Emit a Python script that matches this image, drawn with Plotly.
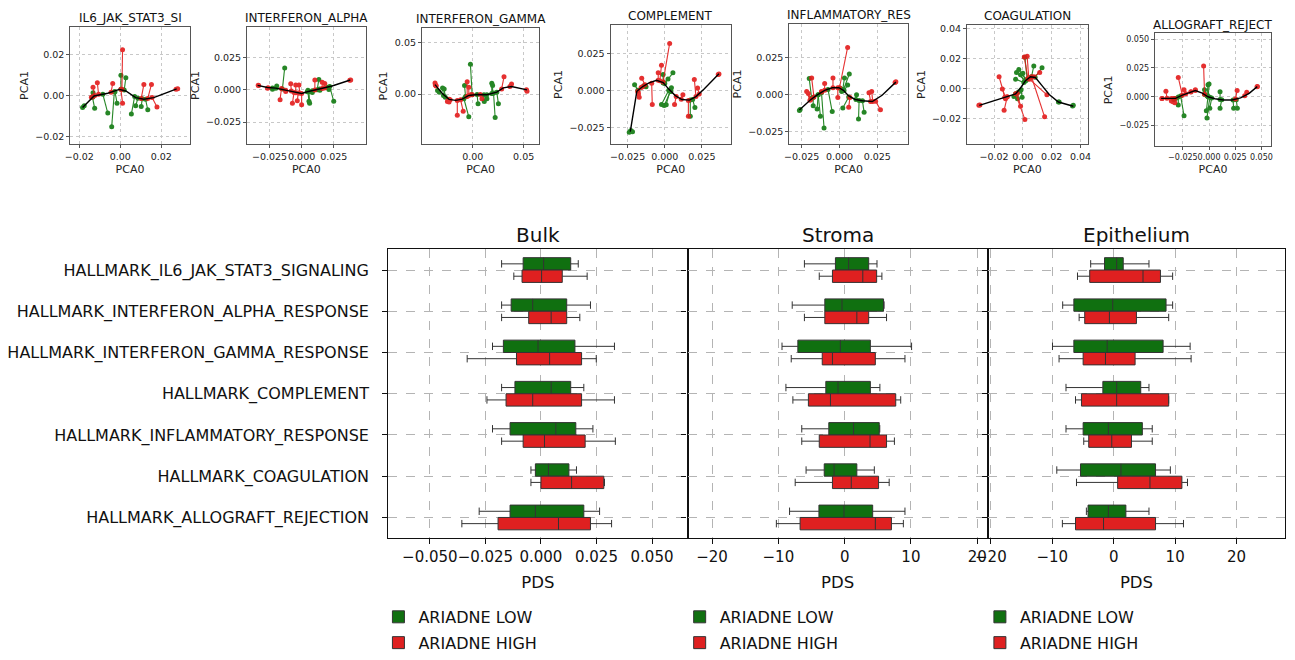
import plotly.graph_objects as go

W, H = 1295, 660
FONT = "DejaVu Sans"
RED = "#e31a1a"
GREEN = "#0f7a0f"
BOX_GREEN = "#107010"
BOX_RED = "#df2020"
EDGE = "#333333"

# ---------------- top panels: principal curves with projected samples ----------------
TOP_TITLES = ["IL6_JAK_STAT3_SI", "INTERFERON_ALPHA", "INTERFERON_GAMMA", "COMPLEMENT",
              "INFLAMMATORY_RES", "COAGULATION", "ALLOGRAFT_REJECT"]

# samples are (x, y, projected_x, projected_y)
P1_CURVE_X = [-0.0184, -0.0128, -0.0061, -0.0005, 0.0027, 0.0075, 0.0115, 0.0163, 0.0227, 0.0275]
P1_CURVE_Y = [-0.0058, -0.0002, 0.0011, 0.0030, 0.0022, -0.0010, -0.0018, -0.0010, 0.0014, 0.0032]
P1_HIGH = [(0.0011, 0.0222, 0.0008, 0.0030), (-0.0112, 0.0062, -0.0106, 0.0006),
           (-0.0133, 0.0040, -0.0125, 0.0000), (-0.0037, 0.0059, -0.0045, 0.0016),
           (0.0011, -0.0037, 0.0003, 0.0030), (0.0115, 0.0054, 0.0102, -0.0014),
           (0.0152, 0.0054, 0.0134, -0.0014), (0.0179, -0.0056, 0.0155, -0.0010),
           (0.0280, 0.0033, 0.0272, 0.0031), (-0.0141, -0.0008, -0.0133, -0.0005)]
P1_LOW = [(-0.0184, -0.0058, -0.0176, -0.0050), (-0.0125, -0.0062, -0.0136, -0.0008),
          (-0.0061, -0.0085, -0.0085, 0.0006), (-0.0042, -0.0152, -0.0029, 0.0018),
          (-0.0016, -0.0037, -0.0026, 0.0019), (0.0003, 0.0099, 0.0003, 0.0030),
          (0.0027, 0.0086, 0.0019, 0.0027), (0.0054, -0.0090, 0.0070, -0.0005),
          (0.0075, -0.0050, 0.0086, -0.0013), (0.0102, -0.0053, 0.0107, -0.0016),
          (0.0134, -0.0069, 0.0123, -0.0018), (-0.0133, 0.0014, -0.0133, -0.0005)]

P2_CURVE_X = [-0.0343, -0.0266, -0.0201, -0.0124, -0.0059, 0.0000, 0.0044, 0.0095, 0.0173, 0.0237, 0.0379]
P2_CURVE_Y = [0.0035, 0.0018, 0.0013, -0.0003, -0.0020, -0.0028, -0.0015, -0.0003, 0.0013, 0.0030, 0.0076]
P2_HIGH = [(-0.0338, 0.0035, -0.0335, 0.0034), (-0.0266, 0.0013, -0.0261, 0.0017),
           (-0.0168, -0.0076, -0.0157, 0.0010), (-0.0124, -0.0013, -0.0124, -0.0003),
           (-0.0085, 0.0048, -0.0080, -0.0008), (-0.0072, -0.0104, -0.0059, -0.0020),
           (-0.0046, 0.0038, -0.0046, -0.0023), (-0.0034, -0.0084, -0.0026, -0.0025),
           (-0.0021, 0.0038, -0.0015, -0.0025), (0.0000, -0.0116, 0.0000, -0.0028),
           (0.0103, 0.0076, 0.0103, -0.0001), (0.0160, 0.0058, 0.0160, 0.0010),
           (0.0180, 0.0050, 0.0178, 0.0014), (0.0382, 0.0077, 0.0375, 0.0075)]
P2_LOW = [(-0.0227, 0.0005, -0.0227, 0.0015), (-0.0194, 0.0030, -0.0201, 0.0013),
          (-0.0132, 0.0170, -0.0150, 0.0006), (0.0049, -0.0003, 0.0044, -0.0015),
          (0.0057, -0.0089, 0.0049, -0.0014), (0.0062, -0.0104, 0.0057, -0.0013),
          (0.0083, -0.0020, 0.0083, -0.0006), (0.0134, 0.0081, 0.0121, 0.0001),
          (0.0142, -0.0003, 0.0140, 0.0006), (0.0212, 0.0003, 0.0205, 0.0020),
          (0.0250, -0.0089, 0.0219, 0.0025)]

P3_CURVE_X = [-0.0371, -0.0297, -0.0233, -0.0168, -0.0103, -0.0039, 0.0042, 0.0139, 0.0236, 0.0300, 0.0381, 0.0533]
P3_CURVE_Y = [0.0093, 0.0003, -0.0051, -0.0061, -0.0048, -0.0013, -0.0003, -0.0006, 0.0019, 0.0061, 0.0074, 0.0042]
P3_HIGH = [(-0.0371, 0.0109, -0.0368, 0.0090), (-0.0362, 0.0085, -0.0360, 0.0080),
           (-0.0249, -0.0071, -0.0233, -0.0051), (-0.0233, -0.0077, -0.0222, -0.0055),
           (-0.0152, -0.0205, -0.0152, -0.0061), (-0.0094, -0.0167, -0.0119, -0.0055),
           (-0.0055, 0.0122, -0.0055, -0.0022), (-0.0039, 0.0068, -0.0039, -0.0013),
           (-0.0016, -0.0004, -0.0006, -0.0005), (0.0090, -0.0045, 0.0074, -0.0004),
           (0.0307, 0.0170, 0.0284, 0.0051), (0.0381, 0.0100, 0.0365, 0.0074),
           (0.0533, 0.0029, 0.0528, 0.0043)]
P3_LOW = [(-0.0346, 0.0035, -0.0329, 0.0019), (-0.0297, 0.0061, -0.0288, -0.0013),
          (-0.0281, 0.0051, -0.0270, -0.0030), (-0.0081, 0.0084, -0.0071, -0.0023),
          (-0.0039, -0.0221, -0.0087, -0.0045), (-0.0023, 0.0292, -0.0006, -0.0005),
          (0.0052, -0.0093, 0.0042, -0.0003), (0.0113, -0.0071, 0.0110, -0.0005),
          (0.0139, -0.0045, 0.0139, -0.0006), (0.0187, 0.0106, 0.0187, 0.0006),
          (0.0220, -0.0228, 0.0204, 0.0010), (0.0252, -0.0093, 0.0236, 0.0019),
          (0.0195, 0.0085, 0.0195, 0.0007)]

P4_CURVE_X = [-0.0232, -0.0188, -0.0150, -0.0106, -0.0055, -0.0011, 0.0027, 0.0071, 0.0115, 0.0166, 0.0210, 0.0265, 0.0365]
P4_CURVE_Y = [-0.0278, -0.0004, 0.0027, 0.0053, 0.0071, 0.0055, 0.0011, -0.0033, -0.0060, -0.0064, -0.0040, 0.0011, 0.0115]
P4_HIGH = [(-0.0177, -0.0022, -0.0181, -0.0004), (-0.0172, -0.0044, -0.0180, -0.0010),
           (-0.0159, 0.0022, -0.0150, 0.0027), (-0.0084, -0.0093, -0.0088, 0.0051),
           (-0.0155, 0.0084, -0.0133, 0.0040), (-0.0022, 0.0173, -0.0033, 0.0068),
           (0.0033, 0.0322, -0.0011, 0.0060), (-0.0044, 0.0122, -0.0044, 0.0071),
           (0.0066, -0.0093, 0.0077, -0.0040), (0.0122, -0.0027, 0.0111, -0.0058),
           (0.0159, -0.0173, 0.0159, -0.0066), (0.0199, 0.0077, 0.0210, -0.0040),
           (0.0221, 0.0018, 0.0232, -0.0022), (0.0365, 0.0113, 0.0360, 0.0110)]
P4_LOW = [(-0.0239, -0.0282, -0.0232, -0.0278), (-0.0217, -0.0280, -0.0228, -0.0270),
          (-0.0203, 0.0040, -0.0181, 0.0004), (-0.0126, 0.0027, -0.0140, 0.0033),
          (-0.0011, 0.0111, -0.0011, 0.0055), (0.0055, 0.0122, 0.0000, 0.0049),
          (0.0022, 0.0080, -0.0008, 0.0052), (-0.0022, -0.0093, 0.0027, 0.0004),
          (-0.0004, -0.0100, 0.0040, -0.0004), (0.0010, -0.0095, 0.0035, 0.0000),
          (0.0172, -0.0173, 0.0172, -0.0064), (0.0203, -0.0115, 0.0188, -0.0060),
          (0.0045, 0.0020, 0.0040, -0.0005)]

P5_CURVE_X = [-0.0265, -0.0228, -0.0195, -0.0152, -0.0098, -0.0048, -0.0004, 0.0026, 0.0061, 0.0104, 0.0152, 0.0217, 0.0282, 0.0373]
P5_CURVE_Y = [-0.0106, -0.0071, -0.0040, -0.0007, 0.0027, 0.0044, 0.0044, 0.0027, -0.0011, -0.0035, -0.0044, -0.0049, -0.0007, 0.0082]
P5_HIGH = [(-0.0184, 0.0110, -0.0169, -0.0018), (-0.0217, 0.0018, -0.0195, -0.0040),
           (-0.0206, 0.0005, -0.0190, -0.0035), (-0.0098, 0.0073, -0.0098, 0.0027),
           (-0.0119, 0.0018, -0.0119, 0.0015), (-0.0043, 0.0110, -0.0043, 0.0044),
           (-0.0011, -0.0022, -0.0011, 0.0044), (0.0054, 0.0316, 0.0000, 0.0044),
           (0.0061, -0.0088, 0.0069, -0.0022), (0.0195, 0.0011, 0.0206, -0.0048),
           (0.0213, 0.0018, 0.0220, -0.0049), (0.0271, -0.0104, 0.0239, -0.0047),
           (0.0373, 0.0084, 0.0368, 0.0080)]
P5_LOW = [(-0.0265, -0.0110, -0.0260, -0.0102), (-0.0200, 0.0106, -0.0184, -0.0027),
          (-0.0174, -0.0077, -0.0174, -0.0022), (-0.0148, -0.0099, -0.0141, -0.0004),
          (-0.0126, -0.0148, -0.0141, -0.0004), (-0.0102, -0.0228, -0.0119, 0.0011),
          (-0.0048, -0.0117, -0.0076, 0.0033), (0.0015, 0.0018, 0.0004, 0.0040),
          (0.0033, 0.0110, 0.0022, 0.0033), (0.0065, 0.0137, 0.0026, 0.0029),
          (0.0054, 0.0062, 0.0030, 0.0025), (0.0022, -0.0093, 0.0061, -0.0018),
          (0.0113, -0.0004, 0.0109, -0.0035), (0.0126, -0.0166, 0.0130, -0.0042),
          (0.0163, -0.0122, 0.0152, -0.0044)]

P6_CURVE_X = [-0.0302, -0.0211, -0.0119, -0.0050, -0.0016, 0.0018, 0.0053, 0.0087, 0.0133, 0.0183, 0.0247, 0.0350]
P6_CURVE_Y = [-0.0114, -0.0085, -0.0059, -0.0037, 0.0002, 0.0050, 0.0077, 0.0072, 0.0018, -0.0042, -0.0092, -0.0120]
P6_HIGH = [(-0.0305, -0.0114, -0.0298, -0.0112), (-0.0165, 0.0077, -0.0124, -0.0060),
           (-0.0142, -0.0004, -0.0124, -0.0060), (-0.0130, -0.0147, -0.0108, -0.0056),
           (-0.0016, -0.0120, -0.0039, -0.0034), (0.0014, -0.0208, -0.0050, -0.0037),
           (0.0030, 0.0215, 0.0041, 0.0068), (0.0117, 0.0105, 0.0076, 0.0077),
           (0.0167, -0.0044, 0.0046, 0.0061), (0.0151, -0.0191, 0.0060, 0.0077),
           (0.0010, 0.0210, 0.0035, 0.0065), (-0.0120, -0.0070, -0.0110, -0.0058)]
P6_LOW = [(0.0014, 0.0208, 0.0030, 0.0061), (0.0076, 0.0149, 0.0060, 0.0077),
          (0.0133, 0.0138, 0.0085, 0.0074), (-0.0044, 0.0105, 0.0018, 0.0050),
          (-0.0028, 0.0125, 0.0022, 0.0055), (-0.0016, 0.0090, 0.0012, 0.0045),
          (-0.0050, 0.0061, 0.0007, 0.0039), (-0.0062, -0.0055, -0.0050, -0.0037),
          (-0.0037, -0.0070, -0.0030, -0.0025), (-0.0005, -0.0060, -0.0012, -0.0010),
          (0.0252, -0.0092, 0.0247, -0.0092), (0.0350, -0.0114, 0.0345, -0.0118),
          (0.0000, 0.0100, 0.0020, 0.0052)]

P7_CURVE_X = [-0.0458, -0.0386, -0.0320, -0.0255, -0.0190, -0.0131, -0.0065, -0.0010, 0.0056, 0.0137, 0.0219, 0.0301, 0.0383, 0.0460]
P7_CURVE_Y = [-0.0014, -0.0014, -0.0014, 0.0014, 0.0037, 0.0054, 0.0031, 0.0000, -0.0017, -0.0028, -0.0028, -0.0009, 0.0030, 0.0088]
P7_HIGH = [(-0.0451, -0.0014, -0.0448, -0.0014), (-0.0412, 0.0048, -0.0402, -0.0012),
           (-0.0360, -0.0037, -0.0360, -0.0014), (-0.0343, -0.0043, -0.0343, -0.0014),
           (-0.0327, -0.0051, -0.0327, -0.0014), (-0.0294, 0.0168, -0.0255, 0.0014),
           (-0.0239, 0.0062, -0.0222, 0.0026), (-0.0173, 0.0043, -0.0173, 0.0041),
           (-0.0131, 0.0062, -0.0131, 0.0054), (-0.0052, 0.0267, -0.0043, 0.0022),
           (0.0268, 0.0054, 0.0252, -0.0020), (0.0360, 0.0040, 0.0340, 0.0008),
           (0.0462, 0.0090, 0.0458, 0.0087)]
P7_LOW = [(-0.0337, -0.0023, -0.0320, -0.0014), (-0.0294, -0.0071, -0.0294, -0.0002),
          (-0.0239, -0.0165, -0.0271, 0.0006), (-0.0043, 0.0062, -0.0043, 0.0022),
          (-0.0010, 0.0105, -0.0020, 0.0010), (0.0000, 0.0111, -0.0008, 0.0003),
          (-0.0026, -0.0122, -0.0010, 0.0000), (-0.0020, -0.0185, 0.0007, -0.0005),
          (0.0007, -0.0099, 0.0025, -0.0010), (0.0105, 0.0043, 0.0105, -0.0024),
          (0.0105, -0.0099, 0.0121, -0.0025), (0.0235, -0.0099, 0.0229, -0.0028),
          (0.0270, -0.0099, 0.0260, -0.0025)]

TOP_X_RANGES = [[-0.0244, 0.0339], [-0.0425, 0.0498], [-0.050, 0.0655], [-0.0365, 0.0446],
                [-0.0332, 0.0452], [-0.0387, 0.0449], [-0.0519, 0.0594]]
TOP_Y_RANGES = [[-0.0237, 0.0335], [-0.0422, 0.049], [-0.049, 0.065], [-0.0365, 0.045],
                [-0.0338, 0.0477], [-0.0375, 0.0426], [-0.043, 0.055]]
TOP_X_TICKS = [[-0.02, 0, 0.02], [-0.025, 0, 0.025], [0, 0.05], [-0.025, 0, 0.025],
               [-0.025, 0, 0.025], [-0.02, 0, 0.02, 0.04], [-0.025, 0, 0.025, 0.05]]
TOP_X_TEXT = [["\u22120.02", "0.00", "0.02"], ["\u22120.025", "0.000", "0.025"], ["0.00", "0.05"],
              ["\u22120.025", "0.000", "0.025"], ["\u22120.025", "0.000", "0.025"],
              ["\u22120.02", "0.00", "0.02", "0.04"], ["\u22120.025", "0.000", "0.025", "0.050"]]
TOP_Y_TICKS = [[-0.02, 0, 0.02], [-0.025, 0, 0.025], [0, 0.05], [-0.025, 0, 0.025],
               [-0.025, 0, 0.025], [-0.02, 0, 0.02, 0.04], [-0.025, 0, 0.025, 0.05]]
TOP_Y_TEXT = TOP_X_TEXT

# ---------------- bottom panels: PDS box plots ----------------
PATHWAYS = ["HALLMARK_IL6_JAK_STAT3_SIGNALING", "HALLMARK_INTERFERON_ALPHA_RESPONSE",
            "HALLMARK_INTERFERON_GAMMA_RESPONSE", "HALLMARK_COMPLEMENT",
            "HALLMARK_INFLAMMATORY_RESPONSE", "HALLMARK_COAGULATION",
            "HALLMARK_ALLOGRAFT_REJECTION"]
PANELS = ["Bulk", "Stroma", "Epithelium"]
GROUPS = ["ARIADNE LOW", "ARIADNE HIGH"]

BULK_LOW_WLO = [-0.0177, -0.0177, -0.0218, -0.0177, -0.0218, -0.0045, -0.0278]
BULK_LOW_Q1 = [-0.0080, -0.0134, -0.0169, -0.0117, -0.0139, -0.0025, -0.0139]
BULK_LOW_MED = [0.0012, -0.0037, -0.0013, 0.0046, 0.0067, 0.0034, -0.0025]
BULK_LOW_Q3 = [0.0134, 0.0116, 0.0153, 0.0134, 0.0157, 0.0126, 0.0193]
BULK_LOW_WHI = [0.0168, 0.0223, 0.0331, 0.0193, 0.0234, 0.0160, 0.0264]
BULK_HIGH_WLO = [-0.0122, -0.0177, -0.0332, -0.0243, -0.0177, -0.0045, -0.0356]
BULK_HIGH_Q1 = [-0.0085, -0.0055, -0.0110, -0.0157, -0.0080, 0.0000, -0.0193]
BULK_HIGH_MED = [0.0003, 0.0046, 0.0039, -0.0037, 0.0016, 0.0138, 0.0079]
BULK_HIGH_Q3 = [0.0096, 0.0116, 0.0183, 0.0183, 0.0199, 0.0283, 0.0223]
BULK_HIGH_WHI = [0.0208, 0.0175, 0.0249, 0.0331, 0.0335, 0.0286, 0.0318]

STROMA_LOW_WLO = [-6.07, -7.91, -9.45, -8.86, -6.47, -5.82, -8.31]
STROMA_LOW_Q1 = [-1.39, -2.99, -7.06, -2.84, -2.39, -3.08, -3.88]
STROMA_LOW_MED = [0.60, -0.40, -0.65, -1.00, 1.34, -1.59, -0.10]
STROMA_LOW_Q3 = [3.63, 5.87, 3.88, 3.88, 5.22, 1.84, 4.23]
STROMA_LOW_WHI = [4.88, 5.95, 10.10, 5.32, 5.30, 4.48, 9.10]
STROMA_HIGH_WLO = [-3.83, -6.07, -8.06, -7.81, -6.47, -7.46, -10.30]
STROMA_HIGH_Q1 = [-1.84, -2.99, -3.38, -5.47, -3.83, -1.84, -6.72]
STROMA_HIGH_MED = [2.74, 1.84, -1.84, -2.14, 3.83, 1.00, 4.63]
STROMA_HIGH_Q3 = [4.83, 3.63, 4.63, 7.71, 6.32, 5.12, 7.06]
STROMA_HIGH_WHI = [5.62, 6.32, 9.10, 8.46, 7.51, 6.72, 8.86]

EPI_LOW_WLO = [-3.75, -8.31, -9.97, -7.77, -7.77, -9.27, -4.45]
EPI_LOW_Q1 = [-1.50, -6.49, -6.49, -1.77, -4.98, -5.41, -4.18]
EPI_LOW_MED = [0.48, -0.16, -1.07, 0.48, -0.86, 1.18, -0.86]
EPI_LOW_Q3 = [1.55, 8.52, 8.04, 4.40, 4.66, 6.81, 1.98]
EPI_LOW_WHI = [5.74, 9.59, 12.44, 5.74, 6.27, 9.22, 5.74]
EPI_HIGH_WLO = [-5.90, -5.63, -8.90, -6.22, -4.88, -6.06, -8.36]
EPI_HIGH_Q1 = [-3.91, -4.72, -4.98, -5.25, -4.07, 0.64, -6.22]
EPI_HIGH_MED = [4.77, -0.70, -1.34, 0.48, -0.32, 5.90, -1.66]
EPI_HIGH_Q3 = [7.61, 3.70, 3.48, 8.95, 2.89, 11.10, 6.81]
EPI_HIGH_WHI = [9.59, 8.95, 12.60, 8.95, 6.27, 12.01, 11.36]

BOTTOM_X_RANGES = [[-0.0687, 0.066], [-23.7, 21.6], [-20.5, 27.9]]
BOTTOM_TICKS = [[-0.05, -0.025, 0, 0.025, 0.05], [-20, -10, 0, 10, 20], [-20, -10, 0, 10, 20]]
BOTTOM_TICK_TEXT = [["\u22120.050", "\u22120.025", "0.000", "0.025", "0.050"],
                    ["\u221220", "\u221210", "0", "10", "20"],
                    ["\u221220", "\u221210", "0", "10", "20"]]

# ---------------- layout geometry (pixels) ----------------
TOP_PX = [(58, 179, 25, 145), (237, 357, 25, 145), (414, 533, 26, 145), (605, 727, 23, 145),
          (786, 906, 22, 145), (966, 1088, 23, 145), (1156, 1274, 32, 147)]
TOP_TICK_SIZE = [9.5, 9.5, 9.5, 9.5, 9.5, 9.5, 8]
BOT_PX = [(380, 683), (683, 987), (987, 1288)]
BOT_TOP, BOT_BOTTOM = 252, 546


def dx(a, b):
    return [a / W, b / W]


def dy(top, bottom):
    return [1 - bottom / H, 1 - top / H]


fig = go.Figure()
layout = dict(width=W, height=H, margin=dict(l=0, r=0, t=0, b=0),
              paper_bgcolor="white", plot_bgcolor="white",
              font=dict(family=FONT, color="#1a1a1a"),
              showlegend=True, boxmode="group", boxgap=0.4, boxgroupgap=0.0)
annotations = []

top_data = [(P1_CURVE_X, P1_CURVE_Y, P1_HIGH, P1_LOW), (P2_CURVE_X, P2_CURVE_Y, P2_HIGH, P2_LOW),
            (P3_CURVE_X, P3_CURVE_Y, P3_HIGH, P3_LOW), (P4_CURVE_X, P4_CURVE_Y, P4_HIGH, P4_LOW),
            (P5_CURVE_X, P5_CURVE_Y, P5_HIGH, P5_LOW), (P6_CURVE_X, P6_CURVE_Y, P6_HIGH, P6_LOW),
            (P7_CURVE_X, P7_CURVE_Y, P7_HIGH, P7_LOW)]


def segs(samples):
    xs, ys = [], []
    for (x, y, px, py) in samples:
        xs += [x, px, None]
        ys += [y, py, None]
    return xs, ys


for i, (cx, cy, high, low) in enumerate(top_data):
    n = i + 1
    xa, ya = ("x" if n == 1 else f"x{n}"), ("y" if n == 1 else f"y{n}")
    for samples, col in ((low, GREEN), (high, RED)):
        sx, sy = segs(samples)
        fig.add_trace(go.Scatter(x=sx, y=sy, mode="lines+markers", xaxis=xa, yaxis=ya,
                                 line=dict(color=col, width=1.1), opacity=0.9,
                                 marker=dict(color=col, size=5), showlegend=False,
                                 hoverinfo="skip"))
    fig.add_trace(go.Scatter(x=cx, y=cy, mode="lines", xaxis=xa, yaxis=ya,
                             line=dict(color="black", width=1.4), showlegend=False,
                             hoverinfo="skip"))
    l, r, t, b = TOP_PX[i]
    common = dict(showline=True, linecolor="#555555", linewidth=1, mirror=True,
                  ticks="outside", ticklen=3, tickcolor="#555555", showgrid=True,
                  gridcolor="#c8c8c8", griddash="dot", gridwidth=1, zeroline=False,
                  tickangle=0, tickfont=dict(size=TOP_TICK_SIZE[i], family=FONT, color="#222"))
    layout["xaxis" if n == 1 else f"xaxis{n}"] = dict(
        domain=dx(l, r), range=TOP_X_RANGES[i], anchor=ya,
        tickvals=TOP_X_TICKS[i], ticktext=TOP_X_TEXT[i],
        title=dict(text="PCA0", font=dict(size=11, family=FONT, color="#222"), standoff=4), **common)
    layout["yaxis" if n == 1 else f"yaxis{n}"] = dict(
        domain=dy(t, b), range=TOP_Y_RANGES[i], anchor=xa,
        tickvals=TOP_Y_TICKS[i], ticktext=TOP_Y_TEXT[i],
        title=dict(text="PCA1", font=dict(size=11, family=FONT, color="#222"), standoff=4), **common)
    annotations.append(dict(text=TOP_TITLES[i], x=(l + r) / 2 / W, y=1 - (t - 9) / H,
                            xref="paper", yref="paper", showarrow=False,
                            font=dict(size=12, family=FONT, color="#111"),
                            xanchor="center", yanchor="middle"))

bottom_stats = [
    ((BULK_LOW_WLO, BULK_LOW_Q1, BULK_LOW_MED, BULK_LOW_Q3, BULK_LOW_WHI),
     (BULK_HIGH_WLO, BULK_HIGH_Q1, BULK_HIGH_MED, BULK_HIGH_Q3, BULK_HIGH_WHI)),
    ((STROMA_LOW_WLO, STROMA_LOW_Q1, STROMA_LOW_MED, STROMA_LOW_Q3, STROMA_LOW_WHI),
     (STROMA_HIGH_WLO, STROMA_HIGH_Q1, STROMA_HIGH_MED, STROMA_HIGH_Q3, STROMA_HIGH_WHI)),
    ((EPI_LOW_WLO, EPI_LOW_Q1, EPI_LOW_MED, EPI_LOW_Q3, EPI_LOW_WHI),
     (EPI_HIGH_WLO, EPI_HIGH_Q1, EPI_HIGH_MED, EPI_HIGH_Q3, EPI_HIGH_WHI)),
]
LEGEND_NAMES = ["legend", "legend2", "legend3"]
LEGEND_X_PX = [370, 675, 979]

for j, (lowstats, highstats) in enumerate(bottom_stats):
    n = 8 + j
    xa, ya = f"x{n}", f"y{n}"
    for g, (stats, fill) in enumerate(((lowstats, BOX_GREEN), (highstats, BOX_RED))):
        wlo, q1, med, q3, whi = stats
        fig.add_trace(go.Box(name=GROUPS[g], y=PATHWAYS, q1=q1, median=med, q3=q3,
                             lowerfence=wlo, upperfence=whi, orientation="h",
                             fillcolor=fill, line=dict(color=EDGE, width=1),
                             whiskerwidth=0.6, xaxis=xa, yaxis=ya, legend=LEGEND_NAMES[j],
                             legendgroup=f"{PANELS[j]}-{g}",
                             showlegend=True, hoverinfo="skip", offsetgroup=str(g)))
    l, r = BOT_PX[j]
    layout[f"xaxis{n}"] = dict(
        domain=dx(l, r), range=BOTTOM_X_RANGES[j], anchor=ya,
        tickvals=BOTTOM_TICKS[j], ticktext=BOTTOM_TICK_TEXT[j], tickangle=0,
        showline=True, linecolor="#111", linewidth=1.3, mirror=True,
        ticks="outside", ticklen=5, tickcolor="#111", showgrid=True,
        gridcolor="#b4b4b4", griddash="dash", gridwidth=1, zeroline=False,
        tickfont=dict(size=15, family=FONT, color="#111"),
        title=dict(text="PDS", font=dict(size=16.5, family=FONT, color="#111"), standoff=11))
    layout[f"yaxis{n}"] = dict(
        domain=dy(BOT_TOP, BOT_BOTTOM), anchor=xa, type="category",
        categoryorder="array", categoryarray=PATHWAYS, range=[6.5, -0.5],
        showline=True, linecolor="#111", linewidth=1.3, mirror=True,
        ticks="outside", ticklen=5, tickcolor="#111", showgrid=True,
        gridcolor="#b4b4b4", griddash="dash", gridwidth=1, zeroline=False,
        ticklabelstandoff=10,
        showticklabels=(j == 0), tickfont=dict(size=16, family=FONT, color="#111"))
    annotations.append(dict(text=PANELS[j], x=(l + r) / 2 / W, y=1 - 237 / H,
                            xref="paper", yref="paper", showarrow=False,
                            font=dict(size=20, family=FONT, color="#111"),
                            xanchor="center", yanchor="middle"))
    layout[LEGEND_NAMES[j]] = dict(x=LEGEND_X_PX[j] / W, y=1 - 609 / H, xanchor="left",
                                   yanchor="top", bgcolor="rgba(0,0,0,0)",
                                   font=dict(size=16, family=FONT, color="#111"),
                                   traceorder="grouped", tracegroupgap=2)

layout["annotations"] = annotations
fig.update_layout(**layout)
fig.write_html("out.html")
